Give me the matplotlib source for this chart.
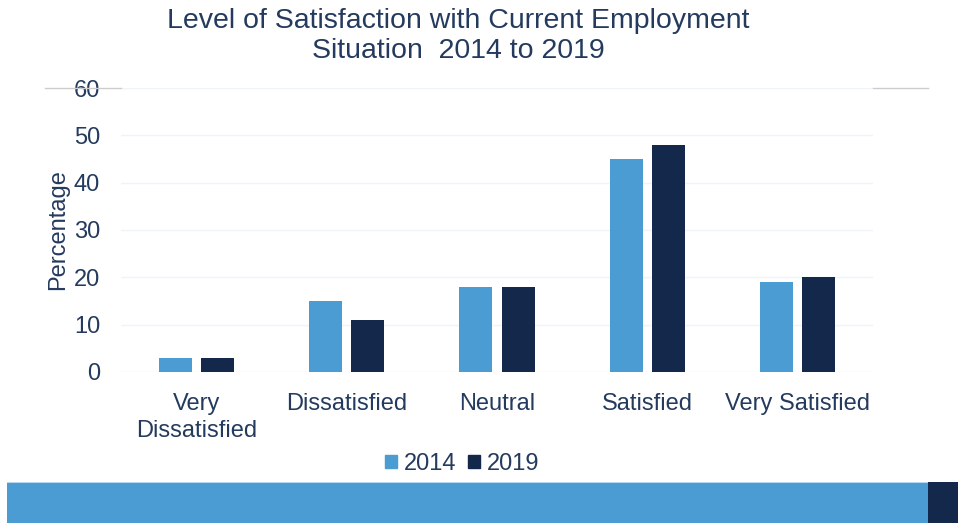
import matplotlib
matplotlib.use("Agg")
import matplotlib.pyplot as plt
import numpy as np
from matplotlib.patches import Rectangle
from matplotlib.lines import Line2D

plt.rcParams['font.family'] = ['Liberation Sans', 'DejaVu Sans']

categories = ["Very\nDissatisfied", "Dissatisfied", "Neutral", "Satisfied", "Very Satisfied"]
series_names = ["2014", "2019"]
values_2014 = [3, 15, 18, 45, 19]
values_2019 = [3, 11, 18, 48, 20]
y_ticks = [0, 10, 20, 30, 40, 50, 60]

light_blue = "#4A9CD3"
navy = "#14284B"
text_color = "#243A5E"

fig = plt.figure(figsize=(9.58, 5.23), dpi=100)
W, H = 958, 523

ax = fig.add_axes([121 / W, 1 - 372 / H, (873 - 121) / W, (372 - 88) / H])
x = np.arange(len(categories))
bw = 0.22
off = 0.14
ax.bar(x - off, values_2014, bw, color=light_blue, label=series_names[0], zorder=3)
ax.bar(x + off, values_2019, bw, color=navy, label=series_names[1], zorder=3)

ax.set_xlim(-0.5, len(categories) - 0.5)
ax.set_ylim(0, 60)
ax.set_yticks(y_ticks)
ax.set_xticks(x)
ax.set_xticklabels(categories, linespacing=1.3)
ax.tick_params(axis='both', length=0, labelsize=17, labelcolor=text_color)
ax.tick_params(axis='x', pad=15)
ax.tick_params(axis='y', pad=15)
ax.grid(axis='y', color="#EEF4FA", linewidth=1, zorder=0)
for s in ax.spines.values():
    s.set_visible(False)
ax.set_ylabel("Percentage", fontsize=17, color=text_color, labelpad=3)

# thin grey rules at the top level
fig.add_artist(Line2D([45 / W, 121 / W], [1 - 88 / H, 1 - 88 / H], color="#CCCCCC", lw=1))
fig.add_artist(Line2D([873 / W, 928 / W], [1 - 88 / H, 1 - 88 / H], color="#CCCCCC", lw=1))

fig.text(458 / W, 1 - 36 / H, "Level of Satisfaction with Current Employment\nSituation  2014 to 2019",
         ha='center', va='center', fontsize=20.5, color=text_color, linespacing=1.18)

handles = [Rectangle((0, 0), 1, 1, color=light_blue), Rectangle((0, 0), 1, 1, color=navy)]
fig.legend(handles, series_names, loc='center', bbox_to_anchor=(462 / W, 1 - 464 / H), ncol=2,
           frameon=False, fontsize=17, handlelength=0.5, handleheight=0.5, handletextpad=0.3,
           columnspacing=0.5, labelcolor=text_color)

# footer band
fig.add_artist(Rectangle((7 / W, 0), (928 - 7) / W, (523 - 482) / H, transform=fig.transFigure,
                         color=light_blue, lw=0))
fig.add_artist(Rectangle((7 / W, (523 - 483) / H), (928 - 7) / W, 1.5 / H, transform=fig.transFigure,
                         color="#B9D8EE", lw=0))
fig.add_artist(Rectangle((928 / W, 0), 30 / W, (523 - 482) / H, transform=fig.transFigure,
                         color=navy, lw=0))

fig.savefig("out.png", dpi=100)
